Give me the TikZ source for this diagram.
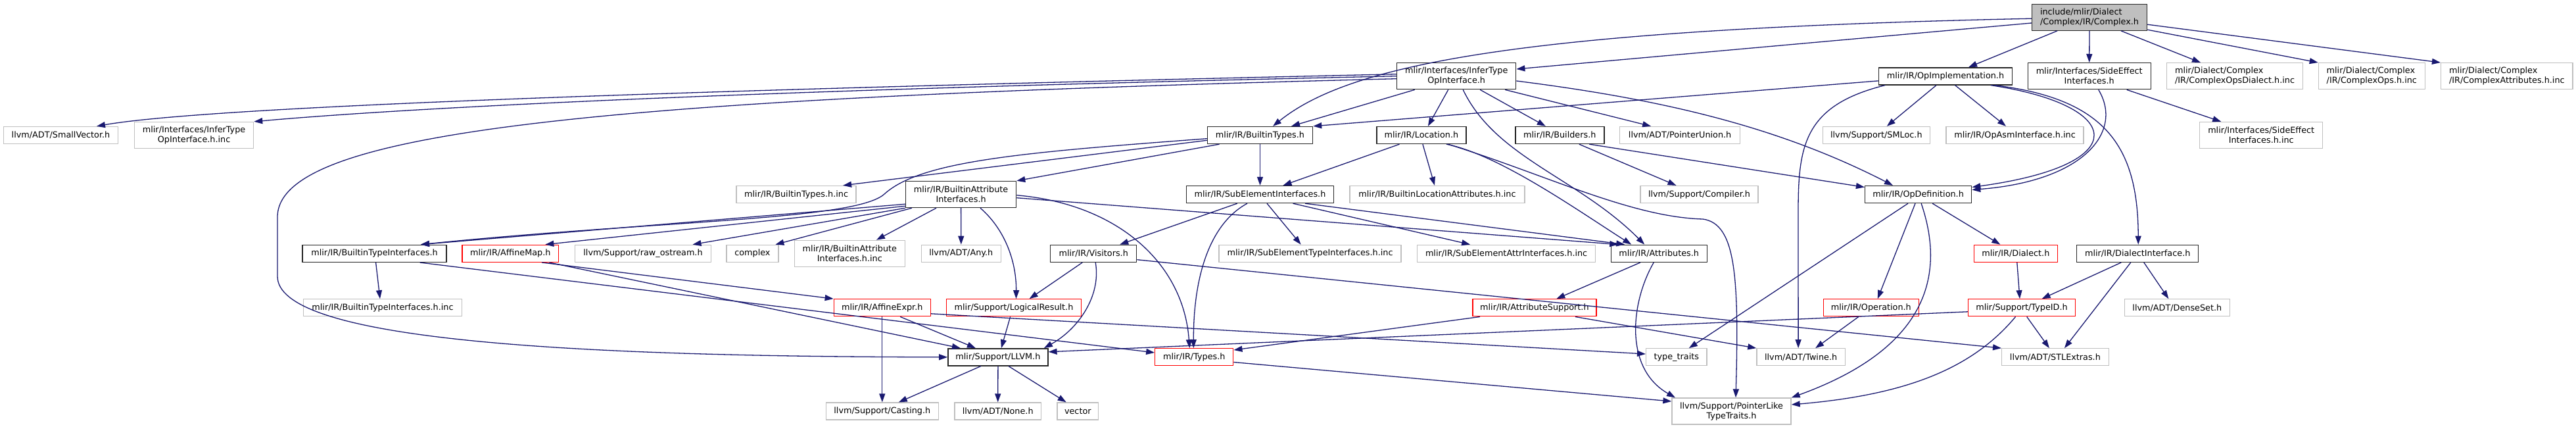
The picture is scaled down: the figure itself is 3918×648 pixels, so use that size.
\documentclass[tikz,border=0pt]{standalone}
\usepackage{fontspec}
\setmainfont{DejaVu Sans}
\usetikzlibrary{arrows.meta}
\definecolor{edgeblue}{HTML}{191970}
\definecolor{grayb}{HTML}{BFBFBF}
\definecolor{redb}{HTML}{FF0000}
\tikzset{
  bx/.style={rectangle, inner sep=0pt, align=center, font=\fontsize{12.8pt}{15pt}\selectfont, fill=white},
  one/.style={minimum height=26pt},
  two/.style={minimum height=40pt},
  wd/.style={minimum width=#1},
  blk/.style={bx, draw=black!85, line width=1.4pt},
  gry/.style={bx, draw=grayb, line width=1.3pt},
  rdb/.style={bx, draw=redb, line width=1.3pt},
  root/.style={bx, draw=black!85, fill=grayb, line width=1.4pt, align=left},
  lft/.style={align=left},
  e/.style={draw=edgeblue, line width=1.3pt, -{Triangle[length=13pt,width=9pt]}}
}
\begin{document}
\begin{tikzpicture}[x=1pt,y=-1pt]
\useasboundingbox (0,0) rectangle (3918,648);
% row 0
\node[root,two,wd=175] (complexh) at (3178,26.2) {include/mlir/Dialect\\/Complex/IR/Complex.h};
% row 1
\node[blk,two,wd=181] (infer) at (2215.2,115.7) {mlir/Interfaces/InferType\\OpInterface.h};
\node[blk,one,wd=203] (opimpl) at (2959,115.9) {mlir/IR/OpImplementation.h};
\node[blk,two,wd=187] (sideeff) at (3177.7,115.7) {mlir/Interfaces/SideEffect\\Interfaces.h};
\node[gry,two,wd=207,lft] (cod) at (3399,115.7) {mlir/Dialect/Complex\\/IR/ComplexOpsDialect.h.inc};
\node[gry,two,wd=162,lft] (cops) at (3607.3,115.7) {mlir/Dialect/Complex\\/IR/ComplexOps.h.inc};
\node[gry,two,wd=200.5,lft] (cattr) at (3812.8,115.7) {mlir/Dialect/Complex\\/IR/ComplexAttributes.h.inc};
% row 2
\node[gry,one,wd=174] (smallvec) at (92.5,205.5) {llvm/ADT/SmallVector.h};
\node[gry,two,wd=181] (inferinc) at (295.1,205.5) {mlir/Interfaces/InferType\\OpInterface.h.inc};
\node[blk,one,wd=160] (btypes) at (1916.5,205.5) {mlir/IR/BuiltinTypes.h};
\node[blk,one,wd=136] (location) at (2161.9,205.5) {mlir/IR/Location.h};
\node[blk,one,wd=135] (builders) at (2372.3,205.5) {mlir/IR/Builders.h};
\node[gry,one,wd=183] (punion) at (2555.1,205.5) {llvm/ADT/PointerUnion.h};
\node[gry,one,wd=163] (smloc) at (2853.8,205.5) {llvm/Support/SMLoc.h};
\node[gry,one,wd=209] (opasm) at (3064.5,205.5) {mlir/IR/OpAsmInterface.h.inc};
\node[gry,two,wd=187] (sideinc) at (3439.2,205.5) {mlir/Interfaces/SideEffect\\Interfaces.h.inc};
% row 3
\node[blk,two,wd=168] (battr) at (1461.6,295.5) {mlir/IR/BuiltinAttribute\\Interfaces.h};
\node[gry,one,wd=182] (btypesinc) at (1211.1,295.5) {mlir/IR/BuiltinTypes.h.inc};
\node[blk,one,wd=224] (subel) at (1916.5,295.5) {mlir/IR/SubElementInterfaces.h};
\node[gry,one,wd=266] (blocinc) at (2186,295.5) {mlir/IR/BuiltinLocationAttributes.h.inc};
\node[gry,one,wd=179] (compiler) at (2584.5,295.5) {llvm/Support/Compiler.h};
\node[blk,one,wd=162] (opdef) at (2917.6,295.5) {mlir/IR/OpDefinition.h};
% row 4
\node[blk,one,wd=219] (btintf) at (569.6,385.3) {mlir/IR/BuiltinTypeInterfaces.h};
\node[rdb,one,wd=146.5] (affmap) at (776.3,385.3) {mlir/IR/AffineMap.h};
\node[gry,one,wd=207] (rawos) at (978,385.3) {llvm/Support/raw\_ostream.h};
\node[gry,one,wd=79] (complexstd) at (1144.4,385.3) {complex};
\node[gry,two,wd=168] (battrinc) at (1292.4,385.3) {mlir/IR/BuiltinAttribute\\Interfaces.h.inc};
\node[gry,one,wd=121] (anyh) at (1461.8,385.3) {llvm/ADT/Any.h};
\node[blk,one,wd=131] (visitors) at (1663.2,385.3) {mlir/IR/Visitors.h};
\node[gry,one,wd=277] (subtinc) at (1992.6,385.3) {mlir/IR/SubElementTypeInterfaces.h.inc};
\node[gry,one,wd=271] (subainc) at (2291.1,385.3) {mlir/IR/SubElementAttrInterfaces.h.inc};
\node[blk,one,wd=146] (attrs) at (2523.2,385.3) {mlir/IR/Attributes.h};
\node[rdb,one,wd=127] (dialect) at (3065.8,385.3) {mlir/IR/Dialect.h};
\node[blk,one,wd=185] (dintf) at (3251.2,385.3) {mlir/IR/DialectInterface.h};
% row 5
\node[gry,one,wd=241.5] (btintfinc) at (582,467.8) {mlir/IR/BuiltinTypeInterfaces.h.inc};
\node[rdb,one,wd=147] (affexpr) at (1341.8,467.8) {mlir/IR/AffineExpr.h};
\node[rdb,one,wd=205] (logres) at (1542,467.8) {mlir/Support/LogicalResult.h};
\node[rdb,one,wd=188] (attrsup) at (2333.9,467.8) {mlir/IR/AttributeSupport.h};
\node[rdb,one,wd=145] (operation) at (2845.8,467.8) {mlir/IR/Operation.h};
\node[rdb,one,wd=163] (typeid) at (3075,467.8) {mlir/Support/TypeID.h};
\node[gry,one,wd=160] (denseset) at (3311.3,467.8) {llvm/ADT/DenseSet.h};
% row 6
\node[blk,one,wd=152] (llvmh) at (1517.9,542.8) {mlir/Support/LLVM.h};
\node[rdb,one,wd=119] (types) at (1816.3,542.8) {mlir/IR/Types.h};
\node[gry,one,wd=92.4] (typetraits) at (2549.8,542.8) {type\_traits};
\node[gry,one,wd=134.4] (twine) at (2739.1,542.8) {llvm/ADT/Twine.h};
\node[gry,one,wd=162.5] (stlextras) at (3125.9,542.8) {llvm/ADT/STLExtras.h};
% row 7
\node[gry,one,wd=171] (casting) at (1341.8,625) {llvm/Support/Casting.h};
\node[gry,one,wd=131.7] (noneh) at (1517.7,625) {llvm/ADT/None.h};
\node[gry,one,wd=62.5] (vector) at (1639.3,625) {vector};
\node[gry,two,wd=181] (plike) at (2633.5,625) {llvm/Support/PointerLike\\TypeTraits.h};

% edges from Complex.h
\draw[e] ([yshift=-8.8pt]complexh.west) -- ([yshift=10.7pt]infer.east);
\draw[e] ([yshift=-2pt]complexh.west) .. controls (2300,45) and (2050,100) .. ([xshift=19.5pt]btypes.north);
\draw[e] ([xshift=-49pt]complexh.south) -- ([xshift=35pt]opimpl.north);
\draw[e] (complexh.south) -- (sideeff.north);
\draw[e] ([xshift=48pt]complexh.south) -- ([xshift=-52pt]cod.north);
\draw[e] ([yshift=-19pt]complexh.east) -- (cops.north west);
\draw[e] ([yshift=-11pt]complexh.east) -- (cattr.north west);
% InferTypeOpInterface.h
\draw[e] ([yshift=3pt]infer.west) .. controls (900,140) and (300,165) .. ([xshift=54.5pt]smallvec.north);
\draw[e] (infer.west) .. controls (1000,140) and (550,170) .. (inferinc.north east);
\draw[e] ([yshift=-4pt]infer.west) .. controls (900,150) and (422,200) .. (422,330) -- (422,420) .. controls (422,510) and (800,542) .. (llvmh.west);
\draw[e] ([xshift=-63.5pt]infer.south) -- ([xshift=47.5pt]btypes.north);
\draw[e] ([xshift=-12.5pt]infer.south) -- ([xshift=10pt]location.north);
\draw[e] ([xshift=36pt]infer.south) -- ([xshift=-21.5pt]builders.north);
\draw[e] ([xshift=74pt]infer.south) -- ([xshift=-44pt]punion.north);
\draw[e] ([xshift=10pt]infer.south) .. controls (2275,240) and (2400,270) .. ([xshift=-22pt]attrs.north);
\draw[e] ([yshift=-7.3pt]infer.east) .. controls (2520,150) and (2700,190) .. ([xshift=-38.6pt]opdef.north);
% OpImplementation.h
\draw[e] ([yshift=-7pt]opimpl.west) -- (btypes.north east);
\draw[e] ([xshift=-92pt]opimpl.south) .. controls (2745,160) and (2735,220) .. (2735,320) -- ([xshift=-4pt]twine.north);
\draw[e] ([xshift=-14pt]opimpl.south) -- ([xshift=16pt]smloc.north);
\draw[e] ([xshift=14.6pt]opimpl.south) -- ([xshift=-13.5pt]opasm.north);
\draw[e] ([xshift=69pt]opimpl.south) .. controls (3230,160) and (3250,250) .. ([yshift=11pt]opdef.east);
\draw[e] ([xshift=75pt]opimpl.south) .. controls (3200,150) and (3252,220) .. ([xshift=1pt]dintf.north);
% SideEffectInterfaces.h
\draw[e] ([xshift=14pt]sideeff.south) .. controls (3230,200) and (3170,275) .. ([yshift=7pt]opdef.east);
\draw[e] ([xshift=57pt]sideeff.south) -- ([xshift=-61pt]sideinc.north);
% BuiltinTypes.h
\draw[e] ([yshift=-7.8pt]btypes.west) -- ([xshift=71pt]btypesinc.north);
\draw[e] ([xshift=-62pt]btypes.south) -- (battr.north east);
\draw[e] (btypes.south) -- (subel.north);
\draw[e] ([yshift=-5.2pt]btypes.west) .. controls (1550,232) and (1400,245) .. (1345,295) .. controls (1301,335) and (1000,335) .. ([xshift=70.4pt]btintf.north);
% Location.h
\draw[e] ([xshift=-33.4pt]location.south) -- ([xshift=35pt]subel.north);
\draw[e] ([xshift=2pt]location.south) -- ([xshift=-4pt]blocinc.north);
\draw[e] ([xshift=38pt]location.south) .. controls (2280,235) and (2400,320) .. ([xshift=-42pt]attrs.north);
\draw[e] ([xshift=40.5pt]location.south) .. controls (2350,265) and (2480,330) .. (2590,333) .. controls (2640,340) and (2645,420) .. ([xshift=6.5pt]plike.north);
% Builders.h
\draw[e] ([xshift=29.5pt]builders.south) -- ([xshift=-35pt]compiler.north);
\draw[e] ([xshift=45pt]builders.south) -- ([yshift=11pt]opdef.west);
% BuiltinAttributeInterfaces.h
\draw[e] ([yshift=6pt]battr.south west) -- ([xshift=70.4pt]btintf.north);
\draw[e] ([yshift=3pt]battr.south west) -- ([xshift=53pt]affmap.north);
\draw[e] (battr.south west) -- ([xshift=75.5pt]rawos.north);
\draw[e] ([xshift=10pt]battr.south west) -- ([xshift=35pt]complexstd.north);
\draw[e] ([xshift=-37.6pt]battr.south) -- ([xshift=40.6pt]battrinc.north);
\draw[e] (battr.south) -- (anyh.north);
\draw[e] ([xshift=29.4pt]battr.south) .. controls (1530,350) and (1546,400) .. ([xshift=3.5pt]logres.north);
\draw[e] ([yshift=-1.2pt]battr.east) .. controls (1700,310) and (1800,400) .. ([xshift=-7pt]types.north);
\draw[e] ([yshift=-5.2pt]battr.east) -- ([xshift=-62pt]attrs.north);
% SubElementInterfaces.h
\draw[e] ([xshift=-34.7pt]subel.south) -- ([xshift=40pt]visitors.north);
\draw[e] ([xshift=-19.5pt]subel.south) .. controls (1840,340) and (1815,420) .. ([xshift=-1pt]types.north);
\draw[e] ([xshift=10.5pt]subel.south) -- ([xshift=-14pt]subtinc.north);
\draw[e] ([xshift=50pt]subel.south) -- ([xshift=-55pt]subainc.north);
\draw[e] ([xshift=68.5pt]subel.south) -- ([xshift=-52pt]attrs.north);
% Visitors.h
\draw[e] ([xshift=-17pt]visitors.south) -- ([xshift=23.6pt]logres.north);
\draw[e] ([xshift=3pt]visitors.south) .. controls (1675,450) and (1640,500) .. ([xshift=70pt]llvmh.north);
\draw[e] ([yshift=-9.4pt]visitors.east) -- (stlextras.north west);
% LogicalResult.h
\draw[e] ([xshift=-5.4pt]logres.south) -- ([xshift=5pt]llvmh.north);
% AffineMap.h
\draw[e] ([xshift=47.6pt]affmap.south) -- (affexpr.north west);
\draw[e] ([xshift=59pt]affmap.south) -- ([xshift=-57pt]llvmh.north);
% AffineExpr.h
\draw[e] (affexpr.south) -- (casting.north);
\draw[e] ([xshift=27.5pt]affexpr.south) -- ([xshift=-34pt]llvmh.north);
\draw[e] ([yshift=-9pt]affexpr.east) -- ([yshift=4.8pt]typetraits.west);
% BuiltinTypeInterfaces.h
\draw[e] ([xshift=2pt]btintf.south) -- ([xshift=-4pt]btintfinc.north);
\draw[e] ([xshift=69pt]btintf.south) -- ([yshift=6.8pt]types.west);
% LLVM.h
\draw[e] ([xshift=-26pt]llvmh.south) -- ([xshift=25pt]casting.north);
\draw[e] (llvmh.south) -- (noneh.north);
\draw[e] ([xshift=16pt]llvmh.south) -- ([xshift=-17.6pt]vector.north);
% Types.h
\draw[e] ([yshift=-7.7pt]types.east) -- ([yshift=15pt]plike.west);
% Attributes.h
\draw[e] ([xshift=-28.4pt]attrs.south) -- ([xshift=33.4pt]attrsup.north);
\draw[e] ([xshift=-8pt]attrs.south) .. controls (2480,460) and (2470,560) .. ([xshift=-85.5pt]plike.north);
% AttributeSupport.h
\draw[e] ([xshift=-83pt]attrsup.south) -- ([yshift=10.8pt]types.east);
\draw[e] ([xshift=62pt]attrsup.south) -- (twine.north west);
% Operation.h
\draw[e] ([xshift=-19pt]operation.south) -- ([xshift=22pt]twine.north);
% OpDefinition.h
\draw[e] ([xshift=-15.6pt]opdef.south) -- ([xshift=19pt]typetraits.north);
\draw[e] ([xshift=-4.6pt]opdef.south) -- ([xshift=10pt]operation.north);
\draw[e] ([xshift=4.5pt]opdef.south) .. controls (2960,420) and (2930,530) .. (plike.north east);
\draw[e] ([xshift=21.5pt]opdef.south) -- ([xshift=-23.5pt]dialect.north);
% Dialect.h
\draw[e] ([xshift=2pt]dialect.south) -- ([xshift=-3pt]typeid.north);
% DialectInterface.h
\draw[e] ([xshift=-25pt]dintf.south) -- ([xshift=30.6pt]typeid.north);
\draw[e] ([xshift=-10.5pt]dintf.south) -- ([xshift=14pt]stlextras.north);
\draw[e] ([xshift=9.6pt]dintf.south) -- ([xshift=-13pt]denseset.north);
% TypeID.h
\draw[e] ([yshift=-6pt]typeid.west) -- ([yshift=8pt]llvmh.east);
\draw[e] ([xshift=7.7pt]typeid.south) -- ([xshift=-9pt]stlextras.north);
\draw[e] ([xshift=-9.5pt]typeid.south) .. controls (3000,560) and (2900,600) .. ([yshift=10pt]plike.east);
\end{tikzpicture}
\end{document}
